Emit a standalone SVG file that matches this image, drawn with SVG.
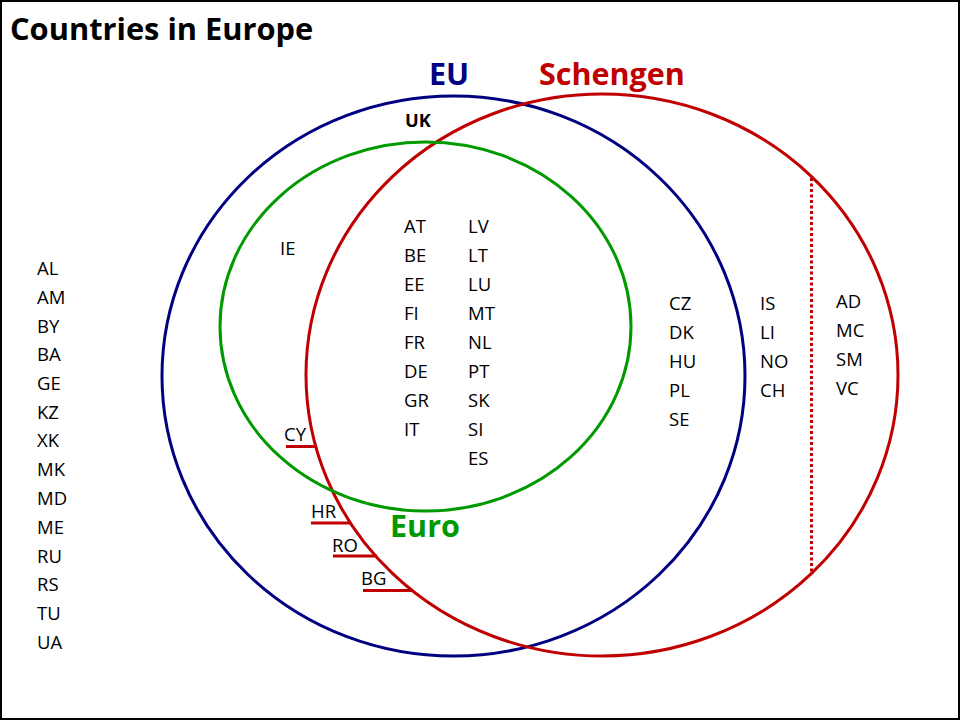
<svg xmlns="http://www.w3.org/2000/svg" width="960" height="720" viewBox="0 0 960 720">
  <style>
    .lbl { font-family: "Open Sans", "Liberation Sans", sans-serif; font-size: 18.5px; fill: #000; }
    .set { fill: none; stroke-width: 3; }
    .head { font-family: "Open Sans", "Liberation Sans", sans-serif; font-weight: bold; font-size: 30.5px; }
    .eu { stroke: #000080; }
    .sch { stroke: #C00000; }
    .euro { stroke: #009900; }
    .tick { stroke: #C00000; stroke-width: 3; fill: none; }
  </style>
  <rect x="1" y="1" width="958" height="718" fill="#fff" stroke="#000" stroke-width="2"/>

  <text id="title" x="10" y="40" font-family="Open Sans, Liberation Sans, sans-serif" font-weight="bold" font-size="30.8" fill="#000">Countries in Europe</text>

  <!-- the three sets -->
  <g id="set-eu">
    <ellipse class="set eu" cx="453.5" cy="376" rx="291.5" ry="280"/>
    <text class="head" x="429" y="85" fill="#000080">EU</text>
  </g>
  <g id="set-schengen">
    <ellipse class="set sch" cx="602" cy="375" rx="296" ry="281"/>
    <text class="head" x="539" y="85" fill="#C00000">Schengen</text>
  </g>
  <g id="set-euro">
    <ellipse class="set euro" cx="425.5" cy="326.5" rx="205.5" ry="184.5"/>
    <text class="head" x="390" y="537" fill="#009900">Euro</text>
  </g>

  <!-- leader ticks and the divider inside Schengen -->
  <g id="connectors">
    <line class="tick" x1="286" y1="446.5" x2="316" y2="446.5"/>
    <line class="tick" x1="311" y1="523" x2="350" y2="523"/>
    <line class="tick" x1="333" y1="556" x2="377" y2="556"/>
    <line class="tick" x1="363" y1="590.5" x2="412" y2="590.5"/>
    <line class="tick" x1="811.5" y1="178" x2="811.5" y2="572" stroke-dasharray="3 2.5"/>
  </g>

  <g id="uk">
    <text x="405" y="127" font-family="Open Sans, Liberation Sans, sans-serif" font-weight="bold" font-size="18.2" fill="#000">UK</text>
  </g>

  <g id="outside">
    <text class="lbl" x="37" y="275">AL</text>
    <text class="lbl" x="37" y="304">AM</text>
    <text class="lbl" x="37" y="333">BY</text>
    <text class="lbl" x="37" y="361">BA</text>
    <text class="lbl" x="37" y="390">GE</text>
    <text class="lbl" x="37" y="419">KZ</text>
    <text class="lbl" x="37" y="447">XK</text>
    <text class="lbl" x="37" y="476">MK</text>
    <text class="lbl" x="37" y="505">MD</text>
    <text class="lbl" x="37" y="534">ME</text>
    <text class="lbl" x="37" y="563">RU</text>
    <text class="lbl" x="37" y="591">RS</text>
    <text class="lbl" x="37" y="620">TU</text>
    <text class="lbl" x="37" y="649">UA</text>
  </g>

  <g id="ie">
    <text class="lbl" x="280" y="255">IE</text>
  </g>

  <g id="core-a">
    <text class="lbl" x="404" y="233">AT</text>
    <text class="lbl" x="404" y="262">BE</text>
    <text class="lbl" x="404" y="291">EE</text>
    <text class="lbl" x="404" y="320">FI</text>
    <text class="lbl" x="404" y="349">FR</text>
    <text class="lbl" x="404" y="378">DE</text>
    <text class="lbl" x="404" y="407">GR</text>
    <text class="lbl" x="404" y="436">IT</text>
  </g>
  <g id="core-b">
    <text class="lbl" x="468" y="233">LV</text>
    <text class="lbl" x="468" y="262">LT</text>
    <text class="lbl" x="468" y="291">LU</text>
    <text class="lbl" x="468" y="320">MT</text>
    <text class="lbl" x="468" y="349">NL</text>
    <text class="lbl" x="468" y="378">PT</text>
    <text class="lbl" x="468" y="407">SK</text>
    <text class="lbl" x="468" y="436">SI</text>
    <text class="lbl" x="468" y="465">ES</text>
  </g>

  <g id="eu-schengen">
    <text class="lbl" x="669" y="310">CZ</text>
    <text class="lbl" x="669" y="339">DK</text>
    <text class="lbl" x="669" y="368">HU</text>
    <text class="lbl" x="669" y="397">PL</text>
    <text class="lbl" x="669" y="426">SE</text>
  </g>

  <g id="schengen-only">
    <text class="lbl" x="760" y="310">IS</text>
    <text class="lbl" x="760" y="339">LI</text>
    <text class="lbl" x="760" y="368">NO</text>
    <text class="lbl" x="760" y="397">CH</text>
  </g>

  <g id="microstates">
    <text class="lbl" x="836" y="308">AD</text>
    <text class="lbl" x="836" y="337">MC</text>
    <text class="lbl" x="836" y="366">SM</text>
    <text class="lbl" x="836" y="395">VC</text>
  </g>

  <g id="pending">
    <text class="lbl" x="284" y="441">CY</text>
    <text class="lbl" x="311" y="518">HR</text>
    <text class="lbl" x="332" y="552">RO</text>
    <text class="lbl" x="361" y="585">BG</text>
  </g>
</svg>
